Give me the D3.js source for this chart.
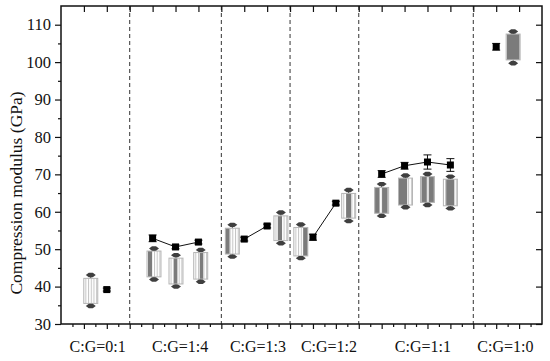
<!DOCTYPE html>
<html>
<head>
<meta charset="utf-8">
<script src="https://d3js.org/d3.v7.min.js"></script>
<style type="text/css">
  body { margin: 0; background: #fff; }
  text { font-family: "Liberation Serif", "Times New Roman", serif; }
</style>
</head>
<body>
<svg id="chart" width="550" height="361"></svg>
<script>
// groups and label positions on the x axis
const groups = ['C:G=0:1', 'C:G=1:4', 'C:G=1:3', 'C:G=1:2', 'C:G=1:1', 'C:G=1:0'];
const groupLabelX = [1.6, 5.2, 8.6, 11.7, 15.8, 19.4];
const dividerX = [3, 7, 10, 13, 18];

// mean values (squares) with error
const meanX = [[2], [4, 5, 6], [8, 9], [11, 12], [14, 15, 16, 17], [19]];
const meanY = [[39.2], [52.9, 50.6, 51.9], [52.7, 56.2], [53.2, 62.3], [70.1, 72.3, 73.3, 72.5], [104.1]];
const meanErr = [[0.4], [0.9, 0.5, 0.5], [0.5, 0.5], [0.8, 0.5], [0.9, 0.9, 1.9, 1.7], [0.9]];

// box charts
const boxX   = [1.3, 4.06, 5.02, 6.1, 7.48, 9.6, 10.47, 12.56, 14.0, 15.04, 16.0, 17.0, 19.74];
const boxMax = [43.1, 50.2, 48.4, 49.8, 56.5, 59.8, 56.6, 65.8, 67.4, 69.7, 70.1, 69.4, 108.2];
const boxQ3  = [42.2, 49.5, 47.6, 49.1, 55.6, 58.9, 55.8, 64.9, 66.5, 69.0, 69.4, 68.7, 107.5];
const boxQ1  = [35.5, 42.6, 40.7, 42.0, 48.7, 52.3, 48.2, 58.3, 59.6, 61.8, 62.5, 61.6, 100.6];
const boxMin = [34.8, 41.9, 40.0, 41.3, 48.0, 51.6, 47.6, 57.5, 58.9, 61.2, 61.8, 60.9, 99.7];

const yTicks = [30, 40, 50, 60, 70, 80, 90, 100, 110];

// dark stripe spans inside each box (fraction of box width)
const stripeStyle = [
  [],
  [[0.07, 0.36]],
  [[0.35, 0.6]],
  [[0.43, 0.67]],
  [[0, 0.3]],
  [[0.28, 0.58]],
  [[0.67, 1]],
  [[0.32, 0.67]],
  [[0, 0.33], [0.53, 0.9]],
  [[0, 0.62]],
  [[0.07, 0.45], [0.6, 0.95]],
  [[0.2, 0.78]],
  [[0.05, 0.95]],
];

const chart = d3.select('#chart');
const plotLeft = 61, plotRight = 542, plotTop = 6, plotBottom = 324;

const x = d3.scaleLinear().domain([0, 21]).range([plotLeft, plotRight]);
const y = d3.scaleLinear().domain([30, 115]).range([plotBottom, plotTop]);

const defs = chart.append('defs');
defs.append('pattern')
  .attr('id', 'vlines')
  .attr('patternUnits', 'userSpaceOnUse')
  .attr('width', 2.7).attr('height', 10)
  .append('rect')
  .attr('x', 0).attr('y', 0).attr('width', 1).attr('height', 10)
  .attr('fill', '#c4c4c4');

// dividers
chart.append('g').selectAll('line')
  .data(dividerX)
  .join('line')
  .attr('x1', d => x(d)).attr('x2', d => x(d))
  .attr('y1', plotTop).attr('y2', plotBottom)
  .attr('stroke', '#333')
  .attr('stroke-width', 1)
  .attr('stroke-dasharray', '4,3');

// axes
const tickStyle = g => {
  g.select('.domain').remove();
  g.selectAll('line').attr('stroke', '#111').attr('stroke-width', 1.2);
};

chart.append('g')
  .attr('transform', `translate(${plotLeft},0)`)
  .call(d3.axisLeft(y).tickValues(yTicks).tickSize(6).tickPadding(4))
  .call(tickStyle)
  .call(g => g.selectAll('text').attr('font-size', 16.5).attr('fill', '#111')
    .attr('font-family', '"Liberation Serif", serif'));

chart.append('g')
  .attr('transform', `translate(${plotLeft},0)`)
  .call(d3.axisLeft(y).tickValues(d3.range(35, 115, 10)).tickSize(3).tickFormat(''))
  .call(tickStyle);

chart.append('g')
  .attr('transform', `translate(${plotRight},0)`)
  .call(d3.axisLeft(y).tickValues(yTicks).tickSize(6).tickFormat(''))
  .call(tickStyle);

chart.append('g')
  .attr('transform', `translate(0,${plotTop})`)
  .call(d3.axisBottom(x).tickValues(d3.range(1, 21)).tickSize(6).tickFormat(''))
  .call(tickStyle);

chart.append('g')
  .attr('transform', `translate(0,${plotBottom})`)
  .call(d3.axisBottom(x).tickValues(d3.range(1, 21)).tickSize(5).tickFormat(''))
  .call(tickStyle);

chart.append('g')
  .attr('transform', `translate(0,${plotBottom})`)
  .call(d3.axisBottom(x).tickValues(d3.range(0.5, 21, 1)).tickSize(3).tickFormat(''))
  .call(tickStyle);

chart.append('rect')
  .attr('x', plotLeft).attr('y', plotTop)
  .attr('width', plotRight - plotLeft).attr('height', plotBottom - plotTop)
  .attr('fill', 'none')
  .attr('stroke', '#111')
  .attr('stroke-width', 1.5);

// group labels
chart.append('g').selectAll('text')
  .data(groups)
  .join('text')
  .attr('x', (d, i) => x(groupLabelX[i]))
  .attr('y', 352)
  .attr('text-anchor', 'middle')
  .attr('font-size', 16)
  .attr('fill', '#111')
  .text(d => d);

// y title
chart.append('text')
  .attr('transform', 'translate(22,193) rotate(-90)')
  .attr('text-anchor', 'middle')
  .attr('font-size', 17.5)
  .attr('fill', '#111')
  .text('Compression modulus (GPa)');

// boxes
const bw = x(0.61) - x(0);
const boxes = chart.append('g').selectAll('g')
  .data(boxX)
  .join('g')
  .attr('transform', d => `translate(${x(d)},0)`);

boxes.append('line')
  .attr('x1', 0).attr('x2', 0)
  .attr('y1', (d, i) => y(boxMax[i])).attr('y2', (d, i) => y(boxQ3[i]))
  .attr('stroke', '#444');
boxes.append('line')
  .attr('x1', 0).attr('x2', 0)
  .attr('y1', (d, i) => y(boxMin[i])).attr('y2', (d, i) => y(boxQ1[i]))
  .attr('stroke', '#444');

boxes.append('rect')
  .attr('x', -bw / 2)
  .attr('y', (d, i) => y(boxQ3[i]))
  .attr('width', bw)
  .attr('height', (d, i) => y(boxQ1[i]) - y(boxQ3[i]))
  .attr('fill', '#fff');
boxes.append('rect')
  .attr('x', -bw / 2)
  .attr('y', (d, i) => y(boxQ3[i]))
  .attr('width', bw)
  .attr('height', (d, i) => y(boxQ1[i]) - y(boxQ3[i]))
  .attr('fill', 'url(#vlines)');

boxes.each(function (d, i) {
  d3.select(this).selectAll('rect.stripe')
    .data(stripeStyle[i])
    .join('rect')
    .attr('class', 'stripe')
    .attr('x', s => -bw / 2 + s[0] * bw)
    .attr('width', s => (s[1] - s[0]) * bw)
    .attr('y', y(boxQ3[i]))
    .attr('height', y(boxQ1[i]) - y(boxQ3[i]))
    .attr('fill', '#7b7b7b');
});

boxes.append('rect')
  .attr('x', -bw / 2)
  .attr('y', (d, i) => y(boxQ3[i]))
  .attr('width', bw)
  .attr('height', (d, i) => y(boxQ1[i]) - y(boxQ3[i]))
  .attr('fill', 'none')
  .attr('stroke', '#b5b5b5')
  .attr('stroke-width', 1);

const cap = 'M-5,0L-2,-2.2L2,-2.2L5,0L2,2.2L-2,2.2Z';
boxes.append('path')
  .attr('d', cap)
  .attr('transform', (d, i) => `translate(0,${y(boxMax[i])})`)
  .attr('fill', '#3f3f3f');
boxes.append('path')
  .attr('d', cap)
  .attr('transform', (d, i) => `translate(0,${y(boxMin[i])})`)
  .attr('fill', '#3f3f3f');

// mean lines and squares
const line = d3.line()
  .x(d => x(d[0]))
  .y(d => y(d[1]));

meanX.forEach((xs, gi) => {
  const pts = xs.map((v, j) => [v, meanY[gi][j], meanErr[gi][j]]);
  const g = chart.append('g');
  g.append('path')
    .datum(pts)
    .attr('fill', 'none')
    .attr('stroke', '#111')
    .attr('stroke-width', 1)
    .attr('d', line);
  const p = g.selectAll('g').data(pts).join('g');
  p.append('line')
    .attr('x1', d => x(d[0])).attr('x2', d => x(d[0]))
    .attr('y1', d => y(d[1] + d[2])).attr('y2', d => y(d[1] - d[2]))
    .attr('stroke', '#111');
  p.append('line')
    .attr('x1', d => x(d[0]) - 4).attr('x2', d => x(d[0]) + 4)
    .attr('y1', d => y(d[1] + d[2])).attr('y2', d => y(d[1] + d[2]))
    .attr('stroke', '#111');
  p.append('line')
    .attr('x1', d => x(d[0]) - 4).attr('x2', d => x(d[0]) + 4)
    .attr('y1', d => y(d[1] - d[2])).attr('y2', d => y(d[1] - d[2]))
    .attr('stroke', '#111');
  p.append('rect')
    .attr('x', d => x(d[0]) - 3.5)
    .attr('y', d => y(d[1]) - 3.5)
    .attr('width', 7).attr('height', 7)
    .attr('fill', '#000');
});
</script>
</body>
</html>
